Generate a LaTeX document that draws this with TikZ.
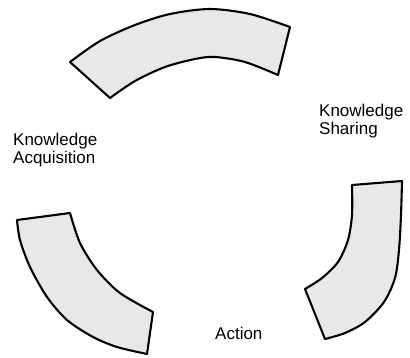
\documentclass[tikz,border=0pt]{standalone}
\usepackage{fontspec}
\newfontfamily\lblfont{Liberation Sans}
\begin{document}
\begin{tikzpicture}[x=1pt,y=-1pt,
  band/.style={draw=black, line width=2.1pt, fill=gray!18, line join=round},
  lbl/.style={font={\lblfont\fontsize{17}{18.3}\selectfont}, align=left, inner sep=0pt, anchor=north west}]
\useasboundingbox (0,0) rectangle (410,358);
% top band
\path[band] plot[smooth] coordinates {(70,62) (100,41) (135,25) (170,14) (210,9) (250,14) (290,27)}
  -- plot[smooth] coordinates {(278,75) (245,62) (215,57) (195,59) (165,67) (135,81) (110,98)} -- cycle;
% right band
\path[band] plot[smooth] coordinates {(402,181) (401,215) (399,250) (395,278) (384,302) (365,322) (345,333) (325,339)}
  -- plot[smooth] coordinates {(305,289) (322,278) (338,262) (348,240) (352,215) (352,185)} -- cycle;
% left band
\path[band] plot[smooth] coordinates {(17,220) (20,240) (30,267) (47,297) (67,320) (93,337) (117,347) (147,354)}
  -- plot[smooth] coordinates {(153,312) (120,293) (97,270) (80,243) (70,213)} -- cycle;
\node[lbl] (acq) at (13,133) {Knowledge\\Acquisition};
\node[lbl] (shr) at (319,104) {Knowledge\\Sharing};
\node[lbl] (act) at (215,327) {Action};
\end{tikzpicture}
\end{document}
